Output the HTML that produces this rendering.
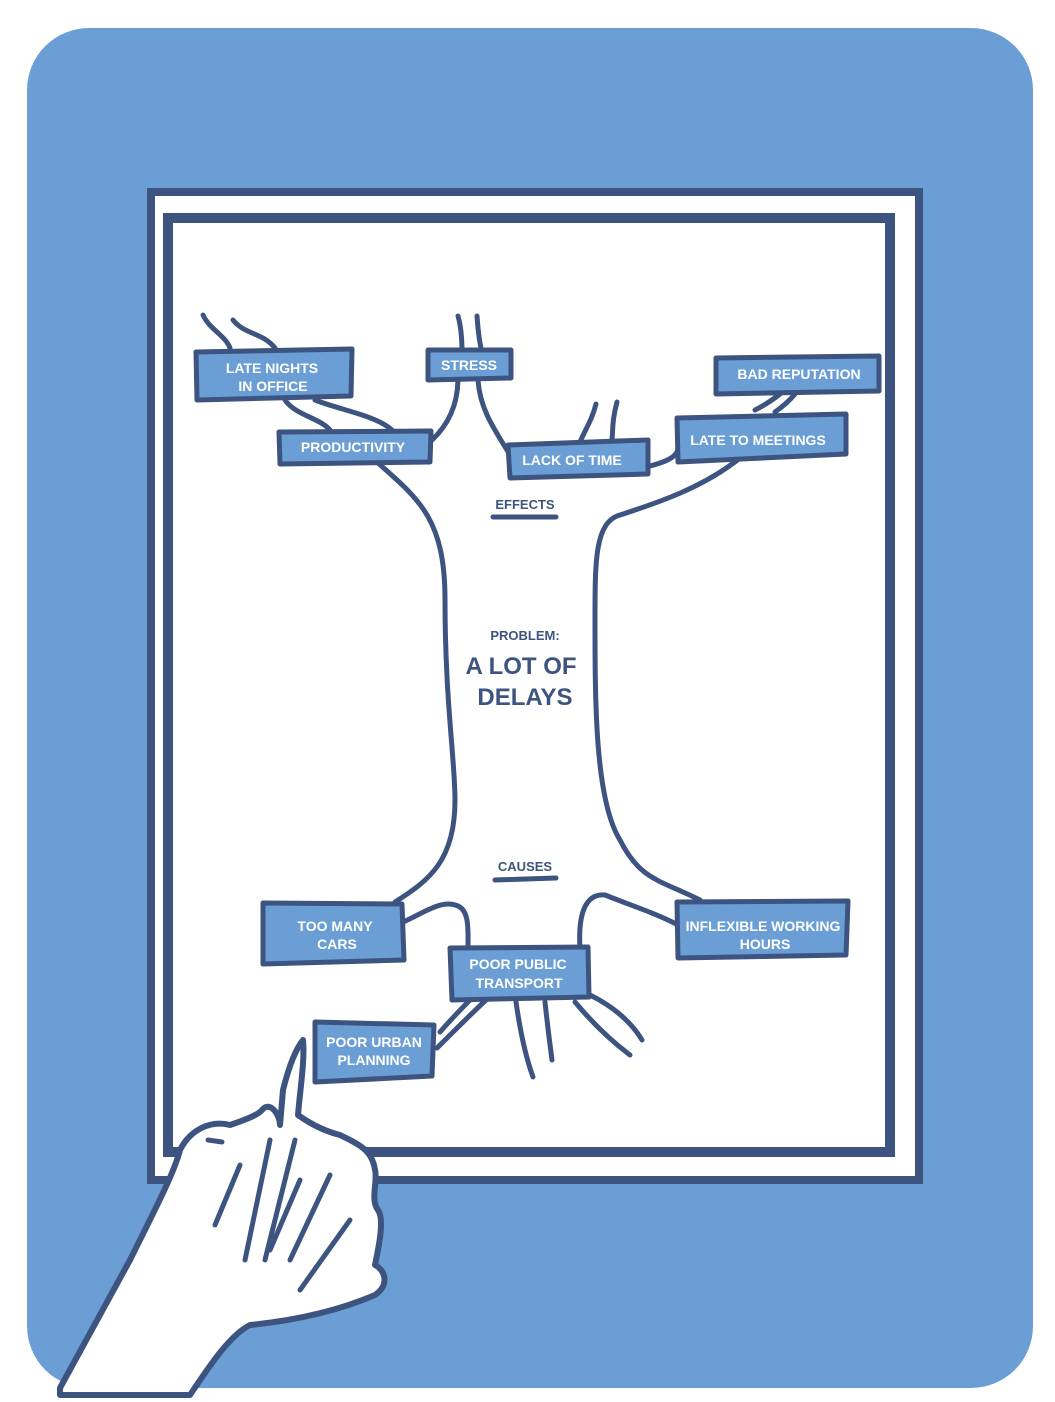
<!DOCTYPE html>
<html><head><style>
body{margin:0;background:#fff;}
svg{display:block;}
text{font-family:"Liberation Sans",sans-serif;font-weight:bold;}
</style></head><body>
<svg width="1055" height="1402" viewBox="0 0 1055 1402" xmlns="http://www.w3.org/2000/svg">
<rect x="27" y="28" width="1006" height="1360" rx="62" fill="#6b9ed4"/>
<!-- outer frame -->
<rect x="151" y="192" width="768" height="988" fill="#fff" stroke="#3d5480" stroke-width="8"/>
<rect x="168" y="218" width="722" height="934" fill="#fff" stroke="#3d5480" stroke-width="10"/>
<g fill="none" stroke="#3d5480" stroke-width="5" stroke-linecap="round">
<!-- trunk -->
<path d="M378 463 C420 500 445 520 445 600 C445 700 455 760 455 800 C455 860 430 880 395 902"/>
<path d="M740 458 C700 490 650 505 620 515 C595 522 595 560 595 620 C595 700 595 800 620 840 C640 880 660 880 700 900"/>
<path d="M203 315 C210 330 225 335 230 348"/>
<path d="M233 320 C245 335 262 332 275 348"/>
<path d="M285 400 C295 415 320 418 330 430"/>
<path d="M315 400 C340 410 375 415 392 430"/>
<path d="M458 316 C462 330 462 345 462 352"/>
<path d="M477 316 C478 330 480 345 482 352"/>
<path d="M458 378 C458 405 448 425 432 440"/>
<path d="M478 380 C480 410 495 430 510 455"/>
<path d="M596 404 C592 420 585 430 580 442"/>
<path d="M617 402 C612 420 613 430 612 440"/>
<path d="M650 466 C665 462 675 458 678 450"/>
<path d="M755 410 C765 405 775 398 780 394"/>
<path d="M775 412 C785 405 790 400 795 394"/>
<path d="M403 922 C420 915 440 900 455 905 C470 908 468 930 468 948"/>
<path d="M580 948 C578 915 585 893 605 895 C630 905 660 915 678 925"/>
<path d="M437 1048 C460 1025 470 1015 486 1000"/>
<path d="M440 1032 C455 1015 465 1005 470 1000"/>
<path d="M516 1002 C520 1030 525 1055 533 1077"/>
<path d="M545 1002 C548 1030 550 1045 552 1060"/>
<path d="M575 1002 C590 1020 610 1040 630 1055"/>
<path d="M590 995 C610 1005 630 1020 642 1040"/>
<path d="M493 517 L556 517"/>
<path d="M495 880 L556 878"/>
</g>
<g fill="#6b9ed4" stroke="#3d5480" stroke-width="5" stroke-linejoin="round">
<path d="M196 352 L352 349 L351 396 L197 400 Z"/>
<path d="M428 350 L511 350 L511 378 L428 380 Z"/>
<path d="M716 358 L879 356 L879 391 L716 394 Z"/>
<path d="M279 432 L431 431 L430 462 L280 464 Z"/>
<path d="M508 445 L648 440 L648 474 L510 478 Z"/>
<path d="M677 418 L846 414 L846 454 L678 462 Z"/>
<path d="M263 903 L402 904 L404 960 L263 964 Z"/>
<path d="M677 902 L848 901 L846 955 L678 958 Z"/>
<path d="M450 948 L588 947 L589 997 L452 1000 Z"/>
<path d="M315 1022 L434 1025 L432 1076 L315 1082 Z"/>
</g>
<g fill="#fff" font-size="14" text-anchor="middle">
<text x="272" y="373">LATE NIGHTS</text>
<text x="273" y="391">IN OFFICE</text>
<text x="469" y="370">STRESS</text>
<text x="799" y="379">BAD REPUTATION</text>
<text x="353" y="452">PRODUCTIVITY</text>
<text x="572" y="465">LACK OF TIME</text>
<text x="758" y="445">LATE TO MEETINGS</text>
<text x="335" y="931">TOO MANY</text>
<text x="337" y="949">CARS</text>
<text x="763" y="931">INFLEXIBLE WORKING</text>
<text x="765" y="949">HOURS</text>
<text x="518" y="969">POOR PUBLIC</text>
<text x="519" y="988">TRANSPORT</text>
<text x="374" y="1047">POOR URBAN</text>
<text x="374" y="1065">PLANNING</text>
</g>
<g fill="#3d5480" text-anchor="middle">
<text x="525" y="509" font-size="13">EFFECTS</text>
<text x="525" y="871" font-size="13">CAUSES</text>
<text x="525" y="640" font-size="13">PROBLEM:</text>
<text x="521" y="674" font-size="24">A LOT OF</text>
<text x="525" y="705" font-size="24">DELAYS</text>
</g>
<!-- hand -->
<path d="M60 1388 L130 1260 C160 1200 175 1170 180 1150 C190 1130 210 1120 230 1125 C245 1120 258 1115 262 1110 C270 1100 280 1115 280 1125 L283 1090 C288 1070 295 1050 303 1040 C305 1060 300 1090 298 1115 C305 1120 320 1130 340 1135 C360 1145 372 1150 375 1170 C378 1180 370 1200 378 1210 C385 1220 378 1250 375 1265 C385 1270 390 1285 375 1295 C340 1310 300 1320 250 1325 C230 1335 210 1365 190 1395 L60 1395 Z" fill="#fff" stroke="#3d5480" stroke-width="6" stroke-linejoin="round"/>
<g fill="none" stroke="#3d5480" stroke-width="5" stroke-linecap="round">
<path d="M270 1140 L245 1260"/>
<path d="M295 1140 L265 1260"/>
<path d="M240 1165 L215 1225"/>
<path d="M300 1180 L270 1250"/>
<path d="M330 1175 L290 1260"/>
<path d="M350 1220 L300 1290"/>
<path d="M208 1140 L222 1142"/>
</g>
</svg>
</body></html>
